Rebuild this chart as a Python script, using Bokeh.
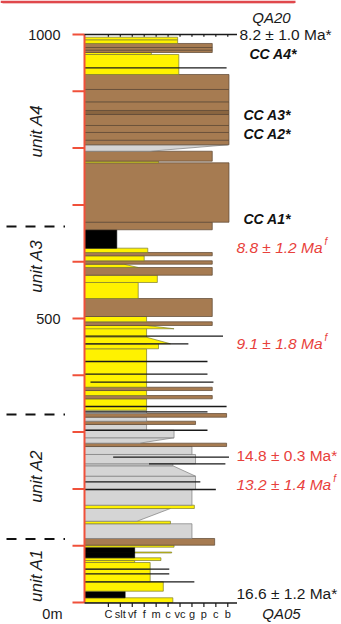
from bokeh.plotting import figure
from bokeh.models import Range1d, ColumnDataSource
from bokeh.core.properties import value
from bokeh.embed import file_html
from bokeh.resources import INLINE

# ---------------------------------------------------------------------------
# Measured section, listed from the base upward.
# Heights in metres; widths in grain-size classes (C=2 ... b=12) at the
# base and top of each bed (they differ for wedging / tapering beds).
# ---------------------------------------------------------------------------
bed_base = [0.0, 8.3, 19.9, 36.4, 58.6, 70.4, 73.9, 87.2, 78.7, 88.0, 97.4, 100.9,
            112.7, 138.6, 143.1, 165.5, 171.3, 198.9, 222.4, 240.7, 244.2, 260.6,
            274.6, 280.5, 290.0, 303.3, 313.4, 319.2, 326.2, 332.7,
            338.6, 358.6, 364.4, 373.2, 379.0, 446.7, 455.5, 455.5, 481.9, 487.7,
            494.2, 503.5, 535.2, 563.4, 576.2, 589.8, 595.6, 601.6, 610.4, 616.2,
            623.8, 656.2,
            669.5, 774.1, 777.0, 794.5, 805.8, 813.9, 827.5, 839.8, 859.2, 866.2,
            881.5, 903.2, 929.6, 964.8, 968.3, 972.4, 977.1, 984.2, 990.7]
bed_top = [8.3, 19.9, 36.4, 58.6, 70.4, 73.9, 78.7, 88.8, 88.0, 97.4, 100.9, 112.7,
           138.6, 143.1, 165.5, 171.3, 198.9, 222.4, 240.7, 244.2, 260.6, 274.6,
           280.5, 290.0, 303.3, 313.4, 319.2, 326.2, 332.7, 338.6,
           358.6, 364.4, 373.2, 379.0, 446.7, 455.5, 487.7, 467.0, 487.7, 494.2,
           503.5, 535.2, 563.4, 576.2, 589.8, 595.6, 601.6, 610.4, 616.2, 623.8,
           656.2, 669.5,
           774.1, 777.0, 794.5, 805.8, 813.9, 827.5, 839.8, 859.2, 866.2, 881.5,
           903.2, 929.6, 964.8, 968.3, 972.4, 977.1, 984.2, 990.7, 995.2]
bed_lith = ["sand", "mud", "sand", "sand", "sand", "sand", "sand", "sand", "mud", "mud", "sand", "cgl",
            "gravel", "sand", "gravel", "sand", "gravel", "gravel", "gravel", "gravel", "gravel", "gravel",
            "cgl", "gravel", "gravel", "gravel", "cgl", "gravel", "cgl", "gravel",
            "sand", "cgl", "sand", "cgl", "sand", "sand", "sand", "sand", "sand", "cgl",
            "sand", "cgl", "sand", "sand", "cgl", "sand", "cgl", "sand", "cgl", "sand",
            "mud", "cgl",
            "cgl", "sand", "cgl", "gravel", "cgl", "cgl", "cgl", "cgl", "cgl_dark", "cgl",
            "cgl", "cgl", "sand", "sand", "cgl", "cgl", "cgl", "sand", "sand"]
bed_grain_base = [7.4, 3.4, 6.6, 5.5, 5.5, 4.2, 6.4, 7.3, 4.2, 4.2, 7.5, 10.9,
                  9.0, 7.2, 4.4, 9.2, 9.0, 9.3, 9.3, 7.4, 9.3, 9.0,
                  11.9, 4.6, 7.5, 5.2, 9.3, 5.2, 11.9, 5.2,
                  5.2, 10.7, 5.2, 10.7, 5.2, 6.2, 5.2, 7.2, 7.5, 10.7,
                  5.2, 10.7, 4.5, 6.1, 10.7, 4.5, 10.7, 5.0, 10.7, 5.3,
                  2.7, 10.7,
                  12.1, 6.2, 10.7, 5.5, 12.1, 12.1, 12.1, 12.1, 12.1, 12.1,
                  12.1, 12.1, 7.9, 5.6, 10.7, 10.7, 10.7, 7.8, 7.8]
bed_grain_top = [7.4, 3.4, 6.6, 5.5, 5.5, 4.2, 6.4, 7.3, 4.2, 4.2, 7.5, 10.9,
                 9.0, 7.2, 7.2, 9.2, 9.0, 9.3, 7.4, 7.4, 9.3, 9.0,
                 11.9, 7.5, 7.5, 5.2, 9.3, 5.2, 11.9, 5.2,
                 5.2, 10.7, 5.2, 10.7, 5.2, 6.2, 5.2, 5.2, 5.2, 10.7,
                 5.2, 10.7, 4.5, 6.1, 10.7, 3.3, 10.7, 5.0, 10.7, 5.3,
                 2.7, 10.7,
                 12.1, 6.2, 10.7, 12.0, 12.1, 12.1, 12.1, 12.1, 12.1, 12.1,
                 12.1, 12.1, 7.9, 5.6, 10.7, 10.7, 10.7, 7.8, 7.8]

# Thin laterally extensive layers drawn as lines (height, from, to in grain classes)
thin_height = [941.4, 468.8, 455.5, 424.3, 401.9, 387.9, 345.1, 335.7, 303.3,
               255.8, 244.2, 212.5, 198.9, 58.6, 50.5, 36.4]
thin_from = [0, 0, 0, 0, 0, 0.5, 0, 0, 0, 2.4, 5.4, 0, 0, 0, 0, 0]
thin_to = [11.9, 11.6, 8.7, 10.3, 10.3, 10.8, 11.9, 10.3, 10.3,
           12.1, 11.8, 9.7, 11.0, 7.1, 7.1, 9.2]

# Grain-size scale
grain_pos = [2, 3, 4, 5, 6, 7, 8, 9, 10, 11, 12]
grain_labels = ["C", "slt", "vf", "f", "m", "c", "vc", "g", "p", "c", "b"]

# Height scale
height_ticks = list(range(0, 1001, 100))
height_labels = {0: "0m", 500: "500", 1000: "1000"}

# Units
unit_names = ["unit A1", "unit A2", "unit A3", "unit A4"]
unit_label_height = [47.5, 222.0, 592.0, 830.0]
unit_bounds = [112.0, 331.0, 662.0]

# Ages and samples
age_text = ["8.2 ± 1.0 Ma*", "8.8 ± 1.2 Ma", "9.1 ± 1.8 Ma",
            "14.8 ± 0.3 Ma*", "13.2 ± 1.4 Ma", "16.6 ± 1.2 Ma*"]
age_height = [1000.0, 625.0, 456.0, 259.0, 208.0, 16.0]
age_color = ["#1a1a1a", "#e8413c", "#e8413c", "#e8413c", "#e8413c", "#1a1a1a"]
age_style = ["normal", "italic", "italic", "normal", "italic", "normal"]
age_sup = ["", "f", "f", "", "f", ""]

cc_text = ["CC A4*", "CC A3*", "CC A2*", "CC A1*"]
cc_height = [966.5, 857.4, 825.7, 676.0]

sample_text = ["QA20", "QA05"]
sample_height = [1030.0, -19.4]

# ---------------------------------------------------------------------------
# Page geometry: column base at 602 px, 0.568 px per metre, 11.94 px per class
# ---------------------------------------------------------------------------
W, H = 341, 624
PX_M = 0.568
PX_G = 11.94
X_AX, Y_AX = 84, 602
AGE_SIZE = 15.5


def gx(px):
    return (px - X_AX) / PX_G


def hy(py):
    return (Y_AX - py) / PX_M


p = figure(width=W, height=H, x_range=Range1d(gx(0), gx(W)),
           y_range=Range1d(hy(H), hy(0)), output_backend="svg",
           toolbar_location=None, min_border=0, x_axis_type=None,
           y_axis_type=None)
p.min_border_left = p.min_border_right = p.min_border_top = p.min_border_bottom = 0
p.grid.visible = False
p.outline_line_color = None
p.background_fill_color = "white"
p.border_fill_color = "white"

FONT = value("Liberation Sans")
RED_AXIS = "#f0503a"

# red frame edge along the top
p.quad(left=gx(0), right=gx(295), top=hy(0), bottom=hy(2.5),
       fill_color="#e0484c", line_color=None)
p.quad(left=gx(2), right=gx(294), top=hy(2.5), bottom=hy(3.5),
       fill_color="#f2c4c4", line_color=None)

# beds
fills = {"sand": "#fff200", "cgl": "#a67b51", "cgl_dark": "#8a6540",
         "gravel": "#d5d5d5", "mud": "#000000"}
edges = {"sand": "#7a7a30", "cgl": "#5a4530", "cgl_dark": "#5a4530",
         "gravel": "#7d7d7d", "mud": "#000000"}
xs, ys, fc, lc = [], [], [], []
for b, t, lith, wb, wt in zip(bed_base, bed_top, bed_lith, bed_grain_base, bed_grain_top):
    xs.append([0, wb, wt, 0])
    ys.append([b, b, t, t])
    fc.append(fills[lith])
    lc.append(edges[lith])
p.patches(xs="xs", ys="ys", fill_color="fc", line_color="lc", line_width=0.7,
          source=ColumnDataSource(dict(xs=xs, ys=ys, fc=fc, lc=lc)))

# thin layers
p.segment(x0=thin_from, y0=thin_height, x1=thin_to, y1=thin_height,
          line_color="#1a1a1a", line_width=1.3)

# height axis (red)
p.segment(x0=0, y0=0, x1=0, y1=1000, line_color=RED_AXIS, line_width=2)
p.segment(x0=[gx(X_AX - 12)] * len(height_ticks), y0=height_ticks,
          x1=[0] * len(height_ticks), y1=height_ticks,
          line_color=RED_AXIS, line_width=2)
lab_h = [h for h in height_ticks if h in height_labels and h > 0]
p.text(x=[gx(60)] * len(lab_h), y=lab_h, text=[height_labels[h] for h in lab_h],
       text_font=FONT, text_font_size="14.5px", text_align="right",
       text_baseline="middle", text_color="#1a1a1a")
p.text(x=[gx(62)], y=[hy(613)], text=[height_labels[0]], text_font=FONT,
       text_font_size="14.5px", text_align="right", text_baseline="middle",
       text_color="#1a1a1a")

# grain-size scale at the base and repeated at the top of the section
for h0, tick_len in ((hy(602.6), 4.0), (1000.0, 2.2)):
    p.segment(x0=0, y0=h0, x1=gx(236.5), y1=h0, line_color="#1a1a1a", line_width=1.5)
    p.segment(x0=grain_pos, y0=[h0] * len(grain_pos), x1=grain_pos,
              y1=[h0 - tick_len / PX_M] * len(grain_pos),
              line_color="#1a1a1a", line_width=1.2)
p.text(x=grain_pos, y=[hy(613.5)] * len(grain_pos), text=grain_labels,
       text_font=FONT, text_font_size="11px", text_align="center",
       text_baseline="middle", text_color="#1a1a1a")

# unit boundaries and names
for ub in unit_bounds:
    p.segment(x0=gx(6), y0=ub, x1=gx(64.5), y1=ub, line_color="#111111",
              line_width=2, line_dash="10 9")
p.text(x=[gx(36)] * len(unit_names), y=unit_label_height, text=unit_names,
       angle=1.5708, text_font=FONT, text_font_size="17px",
       text_font_style="italic", text_align="center", text_baseline="middle",
       text_color="#1a1a1a")

# ages; the superscript sits just past the end of its label
CHAR_EM = {c: 0.556 for c in "0123456789"}
CHAR_EM.update({".": 0.278, " ": 0.278, "±": 0.584, "M": 0.833, "a": 0.556, "*": 0.389})
age_x = [gx(239), gx(236), gx(236), gx(236), gx(236), gx(236)]
for txt, h, col, sty, sup, x in zip(age_text, age_height, age_color, age_style, age_sup, age_x):
    p.text(x=[x], y=[h], text=[txt], text_font=FONT, text_font_size=f"{AGE_SIZE}px",
           text_font_style=sty, text_color=col, text_align="left",
           text_baseline="middle")
    if sup:
        run = sum(CHAR_EM.get(c, 0.556) for c in txt) * AGE_SIZE
        p.text(x=[x], y=[h], text=[sup], x_offset=run + 1.5, y_offset=-6,
               text_font=FONT, text_font_size="10px", text_font_style=sty,
               text_color=col, text_align="left", text_baseline="middle")

cc_x = [gx(249), gx(243), gx(243), gx(243)]
p.text(x=cc_x, y=cc_height, text=cc_text, text_font=FONT, text_font_size="14px",
       text_font_style="bold italic", text_align="left", text_baseline="middle",
       text_color="#111111")

p.text(x=[gx(271), gx(281)], y=sample_height, text=sample_text, text_font=FONT,
       text_font_size="15px", text_font_style="italic", text_align="center",
       text_baseline="middle", text_color="#1a1a1a")

open("out.html", "w").write(file_html(p, INLINE))
